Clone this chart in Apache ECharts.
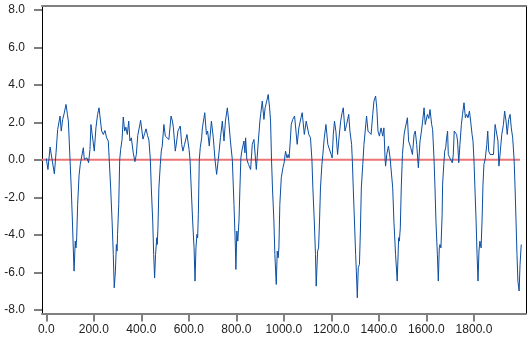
<!DOCTYPE html>
<html><head><meta charset="utf-8">
<script src="https://cdn.jsdelivr.net/npm/echarts@6/dist/echarts.min.js"></script>
<style>html,body{margin:0;padding:0;background:#fff}#c{width:531px;height:341px}</style>
</head><body><div id="c"></div>
<script>
const xValues = [
0,7,16,24,34,41,48,52,58,63,69,75,83,89,93,100,105,110,114,117,122,125,128,132,138,143,149,156,160,166,171,178,184,188,195,202,209,216,222,227,233,240,247,254,261,265,271,277,282,286,291,295,298,300,305,309,313,319,324,330,335,341,347,352,358,366,373,379,385,392,
397,401,407,414,420,426,432,438,442,448,452,456,460,465,467,470,474,480,484,488,495,501,509,516,525,531,535,543,549,554,564,570,575,582,592,601,605,610,616,622,626,630,634,637,640,644,648,654,657,667,674,679,686,695,703,710,717,724,733,741,748,754,762,768,775,783,790,796,798,
802,806,811,815,819,823,832,836,839,844,851,860,867,874,884,891,899,903,909,916,921,928,934,940,944,948,952,958,962,968,972,976,979,983,989,996,1001,1007,1013,1018,1022,1027,1031,1037,1045,1056,1063,1072,1077,1086,1094,1098,1105,1112,1118,1122,1128,1133,1136,1142,1146,1150,1154,1160,1164,1170,1177,1185,1192,1199,1203,1208,1213,
1219,1226,1232,1239,1245,1250,1257,1264,1273,1278,1285,1288,1292,1297,1302,1305,1309,1313,1318,1322,1326,1332,1337,1341,1348,1354,1360,1367,1374,1379,1386,1391,1396,1402,1409,1416,1421,1426,1428,1433,1440,1447,1452,1458,1463,1470,1477,1483,1486,1490,1494,1499,1506,1511,1520,1525,1534,1541,1548,1553,1559,1566,1573,1579,1584,1590,1595,1604,1610,
1615,1622,1626,1632,1636,1640,1646,1650,1654,1657,1661,1666,1668,1673,1677,1681,1685,1689,1692,1698,1703,1709,1713,1717,1723,1727,1731,1736,1741,1747,1752,1758,1764,1769,1775,1781,1786,1792,1796,1800,1804,1809,1813,1817,1821,1825,1830,1834,1838,1842,1848,1854,1858,1862,1868,1875,1882,1889,1896,1901,1905,1911,1917,1924,1929,1935,1940,1946,1952,1957,1963,1969,1973,1977,1981,1985,1990,1994,1999
];
const yValues = [
0.07,-0.52,0.68,0.64,-0.75,0.37,1.62,1.53,2.33,1.53,2.15,2.45,2.95,2.42,2.06,0,-1.5,-3.27,-4.87,-5.94,-4.34,-4.7,-4.16,-2.38,-0.82,-0.25,-0.16,0.64,0.02,0.07,0.1,-0.16,0.55,1.88,1.85,0.46,1.7,2.42,2.77,2.86,1.53,1.35,1.56,1.17,1.0,0,-1.5,-3.27,-5.05,-6.83,-5.94,-4.52,-4.87,-3.98,-2.38,0,0.55,1.08,2.28,1.53,1.74,1.35,2.06,1.0,1.17,0.37,-0.1,0.28,1.3,1.75,
2.1,2.0,1.1,1.4,1.65,1.3,1.05,0,-1.5,-3.27,-5.05,-6.3,-5.05,-4.16,-4.52,-3.63,-1.5,-0.25,0.46,0.73,1.88,1.26,1.17,1.08,2.33,2.06,1.7,0.46,1.0,1.53,1.8,0.82,0.46,0.82,1.35,0.55,0,-1.5,-3.27,-4.7,-6.47,-4.7,-3.98,-4.16,-2.93,0,0.64,1.17,1.7,2.51,1.35,1.53,0.73,2.06,1.17,0.02,-0.78,0.02,1.17,2.06,1.0,2.06,2.77,2.06,1.0,0,-2.38,-4.7,-5.85,
-3.8,-4.34,-3.27,-1.5,0.1,0.46,1.0,0.37,1.17,0.02,-0.25,-0.52,0.82,1.08,-0.52,0.73,2.06,2.15,3.13,2.15,2.77,3.13,3.48,2.77,2.06,0,-1.5,-3.27,-5.05,-6.65,-4.87,-5.23,-4.7,-2.38,-0.96,-0.43,-0.16,0.46,0.1,0.28,0.1,1.0,1.88,2.15,2.33,0.82,1.7,2.24,2.51,1.35,2.06,2.15,1.35,1.17,0,-1.5,-3.27,-5.05,-6.74,-4.87,-4.7,-3.27,-1.5,-0.25,0.28,1.17,1.88,0.82,0.73,0.28,0.1,1.35,2.06,
1.5,0.28,1.17,2.06,2.51,2.77,1.53,1.88,2.42,1.53,0.82,0,-1.5,-3.27,-5.05,-5.94,-7.36,-5.76,-5.58,-3.8,-1.5,-0.25,0.82,0.91,2.33,1.53,1.62,1.35,2.42,3.13,3.4,2.77,1.53,1.26,1.7,1.26,1.7,0.02,-0.34,0.28,0.73,0.1,0,-1.5,-3.27,-5.05,-6.47,-4.16,-4.34,-3.63,-1.5,0.28,1.35,1.7,2.24,1.0,0.64,0.28,1.35,1.53,0.82,-0.43,1.0,1.53,2.06,2.77,1.88,2.42,2.2,
2.68,1.88,1.62,0,-1.5,-3.27,-5.05,-6.47,-4.7,-4.52,-4.7,-2.93,-1.3,-0.25,0.46,0.64,1.17,1.53,0.28,0.1,0.1,-0.16,0.28,1.53,1.62,1.35,1.0,-0.16,0.82,1.88,2.42,3.04,2.24,2.42,2.24,2.6,2.06,1.35,1.0,0,-1.5,-3.27,-5.05,-6.47,-4.87,-4.34,-4.7,-3.27,-1.3,-0.25,0.1,0.82,1.53,0.46,0.28,0.28,0.28,1.88,1.8,1.0,-0.34,0.46,1.35,1.88,2.6,2.06,1.35,2.15,2.42,1.7,1.17,0,-1.5,-3.27,-5.05,-6.47,-7.0,-5.58,-4.52
];
const zeroLineX = [-18, 1994];
const zeroLineY = [0, 0];
const xTicks = [0, 200, 400, 600, 800, 1000, 1200, 1400, 1600, 1800];
const yTicks = [-8, -6, -4, -2, 0, 2, 4, 6, 8];

const mainData = xValues.map((x, i) => [x, yValues[i]]);
const zeroData = zeroLineX.map((x, i) => [x, zeroLineY[i]]);
const font = 'Liberation Sans, Arial, Helvetica, sans-serif';

const chart = echarts.init(document.getElementById('c'), null, {renderer: 'canvas'});
chart.setOption({
  animation: false,
  backgroundColor: '#fff',
  grid: {left: 42, right: 5, top: 6, bottom: 27.5, containLabel: false},
  xAxis: [{
    type: 'value', min: -18, max: 2019, position: 'bottom',
    axisLine: {show: true, onZero: false, lineStyle: {color: '#808080', width: 2}},
    axisTick: {show: true, customValues: xTicks, length: 8, lineStyle: {color: '#808080', width: 2}},
    axisLabel: {customValues: xTicks, formatter: v => Number(v).toFixed(1), margin: 10, fontSize: 12, color: '#222', fontFamily: font},
    splitLine: {show: false}
  }, {
    type: 'value', min: -18, max: 2019, position: 'top',
    axisLine: {show: true, onZero: false, lineStyle: {color: '#808080', width: 2}},
    axisTick: {show: false}, axisLabel: {show: false}, splitLine: {show: false}
  }],
  yAxis: [{
    type: 'value', min: -8.2, max: 8.2, position: 'left',
    axisLine: {show: true, onZero: false, lineStyle: {color: '#000', width: 1}},
    axisTick: {show: true, customValues: yTicks, length: 8, lineStyle: {color: '#555', width: 1.5}},
    axisLabel: {customValues: yTicks, formatter: v => Number(v).toFixed(1), margin: 17, fontSize: 12, color: '#222', fontFamily: font},
    splitLine: {show: false}
  }, {
    type: 'value', min: -8.2, max: 8.2, position: 'right',
    axisLine: {show: true, onZero: false, lineStyle: {color: '#000', width: 1}},
    axisTick: {show: false}, axisLabel: {show: false}, splitLine: {show: false}
  }],
  series: [{
    type: 'line', data: zeroData, xAxisIndex: 0, yAxisIndex: 0,
    showSymbol: false, symbol: 'none', silent: true,
    lineStyle: {color: '#ec7474', width: 2}
  }, {
    type: 'line', data: mainData, xAxisIndex: 0, yAxisIndex: 0,
    showSymbol: false, symbol: 'none', silent: true,
    lineStyle: {color: '#0b4ea2', width: 1}
  }]
});
</script>
</body></html>
